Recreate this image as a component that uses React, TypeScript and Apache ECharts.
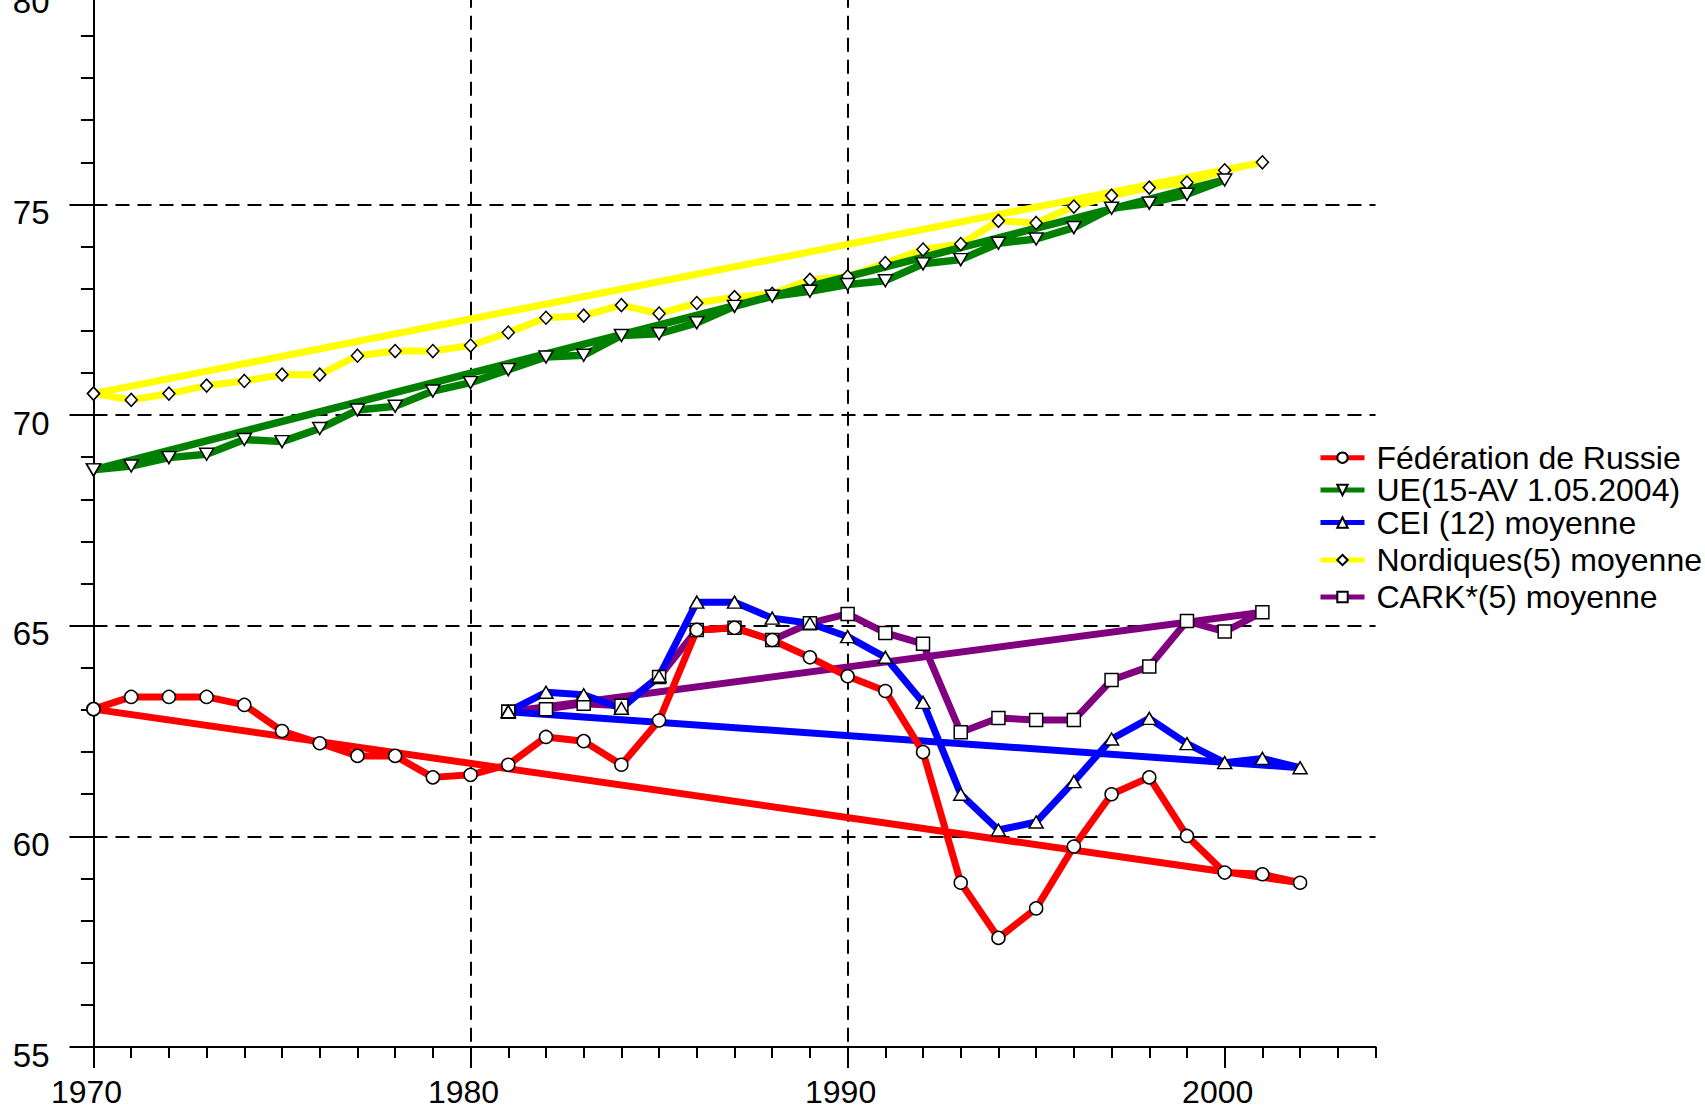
import React, { useEffect, useRef } from "react";
import * as echarts from "echarts";

const FONT = "'Liberation Sans', Arial, Helvetica, sans-serif";

const russiaStart = 1970;
const russiaValues = [
  63.02, 63.31, 63.31, 63.31, 63.12, 62.5, 62.21, 61.91, 61.91, 61.4,
  61.46, 61.7, 62.36, 62.26, 61.7, 62.75, 64.9, 64.95, 64.66, 64.25,
  63.8, 63.45, 62.0, 58.9, 57.59, 58.29, 59.76, 61.0, 61.4, 60.01,
  59.14, 59.1, 58.9,
];

const euStart = 1970;
const euValues = [
  68.7, 68.79, 68.99, 69.07, 69.42, 69.37, 69.68, 70.12, 70.21, 70.57,
  70.77, 71.08, 71.38, 71.42, 71.89, 71.93, 72.19, 72.58, 72.82, 72.94,
  73.1, 73.19, 73.59, 73.69, 74.08, 74.18, 74.45, 74.91, 75.03, 75.24,
  75.58,
];

const ceiStart = 1981;
const ceiValues = [
  62.96, 63.42, 63.36, 63.04, 63.8, 65.56, 65.56, 65.18, 65.06,
  64.74, 64.25, 63.18, 61.0, 60.15, 60.34, 61.3, 62.31, 62.8, 62.2,
  61.75, 61.85, 61.63,
];

const nordicStart = 1970;
const nordicValues = [
  70.51, 70.36, 70.51, 70.7, 70.81, 70.96, 70.96, 71.41, 71.52, 71.52,
  71.65, 71.96, 72.31, 72.36, 72.61, 72.41, 72.66, 72.8, 72.88, 73.21,
  73.29, 73.61, 73.93, 74.06, 74.61, 74.56, 74.95, 75.21, 75.4, 75.52,
  75.81, 76.0,
];

const carkStart = 1981;
const carkValues = [
  62.96, 63.02, 63.15, 63.1, 63.78, 64.9, 64.95, 64.66, 65.06,
  65.28, 64.83, 64.57, 62.47, 62.81, 62.76, 62.76, 63.71, 64.03, 65.11,
  64.86, 65.32,
];

const seriesNames = [
  "Fédération de Russie",
  "UE(15-AV 1.05.2004)",
  "CEI (12) moyenne",
  "Nordiques(5) moyenne",
  "CARK*(5) moyenne",
];

const xTickLabels = [1970, 1980, 1990, 2000];

// closed polygon: points then back to first point (trend line)
function toClosed(start: number, values: number[]) {
  const pts = values.map((v, i) => [start + i, v]);
  return pts.concat([pts[0]]);
}

const SHIFT = 40; // chart div starts above the page so the top of the axis is cut like the reference

export default function App() {
  const ref = useRef<HTMLDivElement>(null);

  useEffect(() => {
    if (!ref.current) return;
    const chart = echarts.init(ref.current, null, { renderer: "svg" });

    const markerStyle = { color: "#fff", borderColor: "#000", borderWidth: 1.5 };
    const mk = (
      name: string,
      start: number,
      values: number[],
      color: string,
      symbol: string,
      symbolSize: any,
      rotate = 0,
      width = 7
    ) => ({
      type: "line",
      name,
      data: toClosed(start, values),
      symbol,
      symbolSize,
      symbolRotate: rotate,
      showAllSymbol: true,
      itemStyle: markerStyle,
      lineStyle: { color, width },
      emphasis: { disabled: true },
      silent: true,
      clip: false,
    });

    const legendCenters = [457.7, 490, 522.5, 560, 597];

    const option: any = {
      animation: false,
      backgroundColor: "#fff",
      textStyle: { fontFamily: FONT },
      grid: { left: 93.5, right: 329.5, top: SHIFT - 6.2, bottom: 59.7 },
      legend: seriesNames.map((n, i) => ({
        data: [n],
        left: 1318,
        top: SHIFT + legendCenters[i] - 16,
        orient: "vertical",
        padding: 0,
        itemWidth: 44,
        itemHeight: 13,
        selectedMode: false,
        lineStyle: { width: 5 },
        textStyle: {
          fontSize: 32,
          lineHeight: 32,
          color: "#000",
          fontFamily: FONT,
          padding: [0, 0, 0, 7],
        },
      })),
      xAxis: [
        {
          type: "value",
          position: "bottom",
          min: 1970,
          max: 2004,
          interval: 10,
          axisLine: { show: true, onZero: false, lineStyle: { color: "#000", width: 2 } },
          axisTick: {
            show: true,
            length: 21,
            lineStyle: { color: "#000", width: 2 },
            customValues: xTickLabels,
          },
          axisLabel: {
            customValues: xTickLabels,
            formatter: (v: number) => String(v),
            fontSize: 32,
            color: "#000",
            fontFamily: FONT,
            margin: 29,
            padding: [0, 14, 0, 0],
          },
          splitLine: {
            show: true,
            showMinLine: false,
            showMaxLine: false,
            lineStyle: { color: "#000", width: 2, type: [14, 8] },
          },
        },
        {
          type: "value",
          position: "bottom",
          min: 1970,
          max: 2004,
          interval: 1,
          axisLine: { show: false, onZero: false },
          axisTick: { show: true, length: 11, lineStyle: { color: "#000", width: 2 } },
          axisLabel: { show: false },
          splitLine: { show: false },
        },
      ],
      yAxis: [
        {
          type: "value",
          position: "left",
          min: 55,
          max: 80,
          interval: 5,
          axisLine: { show: true, onZero: false, lineStyle: { color: "#000", width: 2 } },
          axisTick: { show: true, length: 24, lineStyle: { color: "#000", width: 2 } },
          axisLabel: {
            fontSize: 33,
            color: "#000",
            fontFamily: FONT,
            margin: 44,
            verticalAlign: "top",
            lineHeight: 16,
          },
          splitLine: {
            show: true,
            showMinLine: false,
            showMaxLine: false,
            lineStyle: { color: "#000", width: 2, type: [14, 8] },
          },
        },
        {
          type: "value",
          position: "left",
          min: 55,
          max: 80,
          interval: 1,
          axisLine: { show: false, onZero: false },
          axisTick: { show: true, length: 12.6, lineStyle: { color: "#000", width: 2 } },
          axisLabel: { show: false },
          splitLine: { show: false },
        },
      ],
      series: [
        mk(seriesNames[4], carkStart, carkValues, "#800080", "rect", 13),
        mk(seriesNames[3], nordicStart, nordicValues, "#ffff00", "diamond", [12, 13]),
        mk(seriesNames[2], ceiStart, ceiValues, "#0000ff", "triangle", [14, 12]),
        mk(seriesNames[1], euStart, euValues, "#008000", "triangle", [14, 12], 180, 7.5),
        mk(seriesNames[0], russiaStart, russiaValues, "#ff0000", "circle", 13),
      ],
    };

    chart.setOption(option);
    return () => chart.dispose();
  }, []);

  return (
    <div
      ref={ref}
      style={{
        position: "absolute",
        left: 0,
        top: -SHIFT,
        width: 1705,
        height: 1108 + SHIFT,
        background: "#fff",
      }}
    />
  );
}
